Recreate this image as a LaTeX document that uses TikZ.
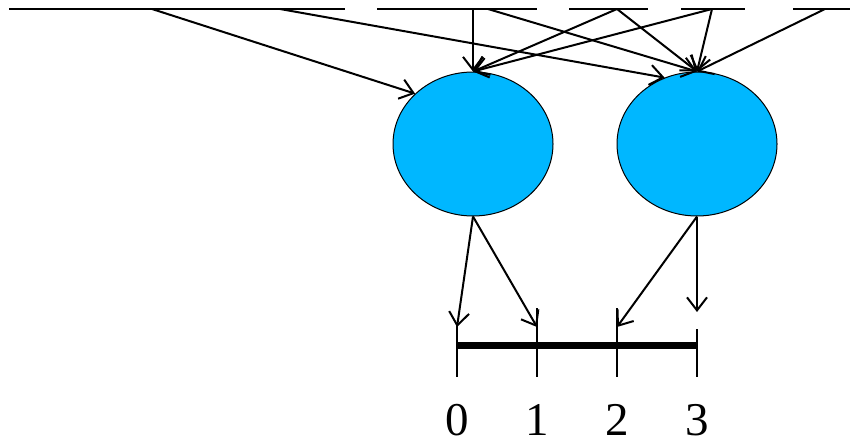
\documentclass[tikz,border=0pt]{standalone}
\usepackage{fontspec}
\setmainfont{Liberation Serif}
\definecolor{cell}{RGB}{0, 183, 255}
\usetikzlibrary{arrows.meta, shapes.geometric}

\begin{document}
\begin{tikzpicture}[
            x=1pt, y=-1pt,
            unit/.style={ellipse, draw=black, line width=1pt, fill=cell, minimum width=160pt, minimum height=144pt, inner sep=0pt},
            wire/.style={line width=2.2pt},
            arr/.style={-{Straight Barb[length=13pt, width=20pt, line width=2pt]}, line width=2pt},
            tickmark/.style={line width=2pt},
            axis/.style={line width=7pt},
            lbl/.style={font=\fontsize{47}{47}\selectfont, inner sep=0pt}
        ]
            \useasboundingbox (0,0) rectangle (850,442);

            % input line
            \draw[wire] (9,9) -- (345,9);
            \draw[wire] (377,9) -- (537,9);
            \draw[wire] (569,9) -- (648,9);
            \draw[wire] (681,9) -- (745,9);
            \draw[wire] (793,9) -- (850,9);

            \coordinate (s1) at (152,9);
            \coordinate (s2) at (280,9);
            \coordinate (s3) at (473,9);
            \coordinate (s4) at (488,9);
            \coordinate (s5) at (617,9);
            \coordinate (s6) at (712,9);
            \coordinate (s7) at (825,9);

            \node[unit] (circL) at (473,144) {};
            \node[unit] (circR) at (697,144) {};

            \draw[arr] (s1) -- (circL.139);
            \draw[arr] (s2) -- (circR.116);
            \draw[arr] (s3) -- (circL.north);
            \draw[arr] (s4) -- (circR.north);
            \draw[arr] (s5) -- (circL.north);
            \draw[arr] (s5) -- (circR.north);
            \draw[arr] (s6) -- (circL.north);
            \draw[arr] (s6) -- (circR.north);
            \draw[arr] (s7) -- (circR.north);

            % number line
            \coordinate (t0) at (457,345);
            \coordinate (t1) at (537,345);
            \coordinate (t2) at (617,345);
            \coordinate (t3) at (697,345);
            \draw[axis] (t0) -- (t3);
            \draw[tickmark] (457,323) -- (457,377);
            \draw[tickmark] (537,308) -- (537,377);
            \draw[tickmark] (617,308) -- (617,377);
            \draw[tickmark] (697,329) -- (697,377);

            \coordinate (a0) at (457,327);
            \coordinate (a1) at (537,327);
            \coordinate (a2) at (617,327);
            \coordinate (a3) at (697,312);
            \draw[arr] (circL.south) -- (a0);
            \draw[arr] (circL.south) -- (a1);
            \draw[arr] (circR.south) -- (a2);
            \draw[arr] (circR.south) -- (a3);

            \node[lbl] (n0) at (457,420) {0};
            \node[lbl] (n1) at (537,420) {1};
            \node[lbl] (n2) at (617,420) {2};
            \node[lbl] (n3) at (697,420) {3};
        \end{tikzpicture}
\end{document}
